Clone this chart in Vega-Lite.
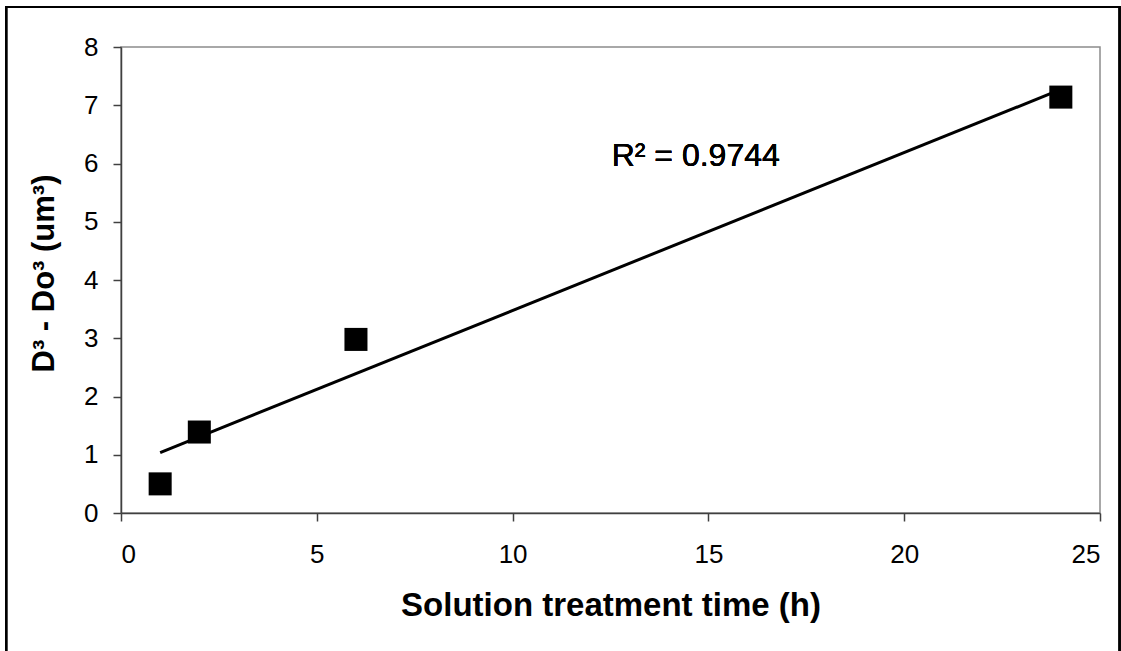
{
  "$schema": "https://vega.github.io/schema/vega-lite/v6.json",
  "autosize": "none",
  "width": 979,
  "height": 466,
  "padding": {"left": 121, "top": 47, "right": 21, "bottom": 138},
  "background": "white",
  "config": {
    "font": "Liberation Sans",
    "view": {"stroke": "#8c8c8c", "strokeWidth": 1.5},
    "axis": {
      "grid": false,
      "domainColor": "#404040",
      "domainWidth": 1.5,
      "tickColor": "#404040",
      "tickWidth": 1.5,
      "tickSize": 8,
      "labelFont": "Liberation Sans",
      "labelFontSize": 26,
      "labelColor": "black",
      "titleFont": "Liberation Sans",
      "titleFontSize": 33,
      "titleFontWeight": "bold",
      "titleColor": "black"
    }
  },
  "data": {
    "values": [
      {"t": 1, "d": 0.5},
      {"t": 2, "d": 1.39},
      {"t": 6, "d": 2.98},
      {"t": 24, "d": 7.14}
    ]
  },
  "layer": [
    {
      "mark": {"type": "rect", "fill": null, "stroke": "black", "strokeWidth": 2, "clip": false},
      "encoding": {
        "x": {"datum": -2.93, "type": "quantitative", "scale": {"domain": [0, 25]}},
        "x2": {"datum": 25.5},
        "y": {"datum": 8.686, "type": "quantitative", "scale": {"domain": [0, 8]}},
        "y2": {"datum": -2.6}
      }
    },
    {
      "transform": [{"regression": "d", "on": "t", "method": "linear"}],
      "mark": {"type": "line", "color": "black", "strokeWidth": 3},
      "encoding": {
        "x": {"field": "t", "type": "quantitative"},
        "y": {"field": "d", "type": "quantitative"}
      }
    },
    {
      "mark": {"type": "square", "filled": true, "color": "black", "opacity": 1, "size": 530},
      "encoding": {
        "x": {
          "field": "t",
          "type": "quantitative",
          "scale": {"domain": [0, 25], "nice": false, "zero": true},
          "axis": {
            "values": [0, 5, 10, 15, 20, 25],
            "format": "d",
            "title": "Solution treatment time (h)",
            "labelBaseline": "alphabetic",
            "labelPadding": 41,
            "titleBaseline": "alphabetic",
            "titleY": 102,
            "titleAnchor": "middle"
          }
        },
        "y": {
          "field": "d",
          "type": "quantitative",
          "scale": {"domain": [0, 8], "nice": false},
          "axis": {
            "values": [0, 1, 2, 3, 4, 5, 6, 7, 8],
            "format": "d",
            "title": "D³ - Do³ (um³)",
            "titleFontSize": 31,
            "labelPadding": 15,
            "titleBaseline": "alphabetic",
            "titleX": -68,
            "titleY": 226,
            "titleAngle": -90
          }
        }
      }
    },
    {
      "mark": {"type": "text", "align": "left", "baseline": "alphabetic", "fontSize": 32, "font": "Liberation Sans", "color": "black"},
      "encoding": {
        "x": {"datum": 12.53, "type": "quantitative"},
        "y": {"datum": 5.953, "type": "quantitative"},
        "text": {"value": "R² = 0.9744"}
      }
    }
  ]
}
